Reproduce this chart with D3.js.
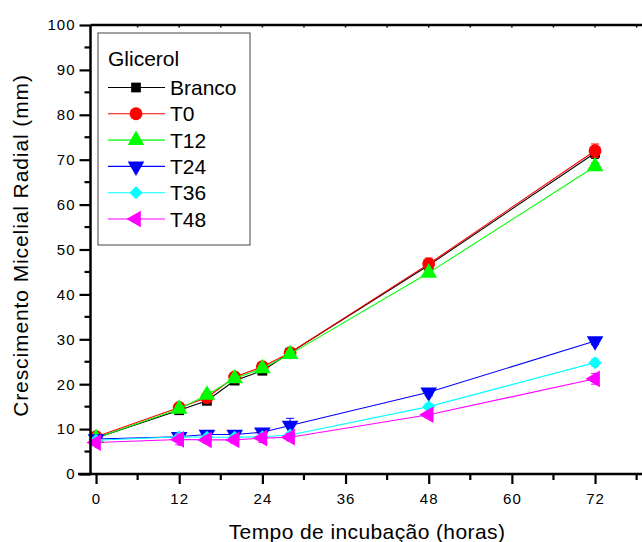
<!DOCTYPE html>
<html>
<head>
<meta charset="utf-8">
<script src="https://cdn.jsdelivr.net/npm/d3@7"></script>
<style>
  html, body { margin: 0; padding: 0; background: #fff; }
  svg { display: block; }
  text { font-family: Arial, "Liberation Sans", sans-serif; fill: #000; }
</style>
</head>
<body>
<script>
// Incubation times (hours)
const hours = [0, 12, 16, 20, 24, 28, 48, 72];

// Mean radial mycelial growth (mm) per treatment
const branco = [8.0, 14.2, 16.3, 20.8, 23.0, 27.0, 46.5, 71.5];
const t0     = [8.3, 14.8, 17.0, 21.6, 23.9, 27.0, 46.8, 72.0];
const t12    = [8.0, 14.5, 17.6, 21.3, 23.5, 26.7, 44.8, 68.5];
const t24    = [7.8, 8.3, 8.8, 8.8, 9.3, 10.8, 18.2, 29.6];
const t36    = [7.5, 8.3, 8.2, 8.2, 8.3, 8.7, 15.0, 24.8];
const t48    = [7.0, 7.7, 7.6, 7.6, 8.0, 8.2, 13.2, 21.2];

// Standard deviations
const brancoErr = [0.5, 0.8, 0.6, 0.8, 0.8, 0.7, 1.2, 1.2];
const t0Err     = [0.5, 0.8, 0.6, 0.8, 1.0, 0.7, 1.3, 1.5];
const t12Err    = [0.4, 0.7, 0.8, 0.6, 0.7, 0.6, 0.8, 0.8];
const t24Err    = [0.5, 0.5, 0.6, 0.5, 0.6, 1.6, 0.8, 0.8];
const t36Err    = [0.5, 0.6, 0.5, 0.6, 0.5, 0.6, 0.6, 0.8];
const t48Err    = [0.6, 1.2, 0.8, 0.8, 1.0, 0.8, 0.7, 1.2];

const seriesNames = ["Branco", "T0", "T12", "T24", "T36", "T48"];
const legendTitle = "Glicerol";
const xTicks = [0, 12, 24, 36, 48, 60, 72];
const yTicks = [0, 10, 20, 30, 40, 50, 60, 70, 80, 90, 100];
const xTitle = "Tempo de incubação (horas)";
const yTitle = "Crescimento Micelial Radial (mm)";

const series = [
  { name: seriesNames[0], values: branco, err: brancoErr, color: "#000000", shape: "square" },
  { name: seriesNames[1], values: t0,     err: t0Err,     color: "#ff0000", shape: "circle" },
  { name: seriesNames[2], values: t12,    err: t12Err,    color: "#00ff00", shape: "up" },
  { name: seriesNames[3], values: t24,    err: t24Err,    color: "#0000ff", shape: "down" },
  { name: seriesNames[4], values: t36,    err: t36Err,    color: "#00ffff", shape: "diamond" },
  { name: seriesNames[5], values: t48,    err: t48Err,    color: "#ff00ff", shape: "left" }
];

const W = 642, H = 542;
const plotLeft = 90.5, plotTop = 25, plotBottom = 474;

const x = d3.scaleLinear().domain([-0.8, 80]).range([plotLeft, plotLeft + 80.8 * (499 / 72)]);
const y = d3.scaleLinear().domain([0, 100]).range([plotBottom, plotTop]);

const svg = d3.select("body").append("svg").attr("width", W).attr("height", H);

// Marker path builder
function markerPath(shape) {
  const sym = d3.symbol();
  switch (shape) {
    case "square":  return { d: sym.type(d3.symbolSquare).size(95)(), rot: 0 };
    case "circle":  return { d: sym.type(d3.symbolCircle).size(130)(), rot: 0 };
    case "up":      return { d: sym.type(d3.symbolTriangle).size(120)(), rot: 0 };
    case "down":    return { d: sym.type(d3.symbolTriangle).size(120)(), rot: 180 };
    case "diamond": return { d: sym.type(d3.symbolSquare).size(85)(), rot: 45 };
    case "left":    return { d: sym.type(d3.symbolTriangle).size(120)(), rot: -90 };
  }
}

// Series: lines, error bars, markers
const plot = svg.append("g");
const line = d3.line().x((d, i) => x(hours[i])).y(d => y(d));

series.forEach(s => {
  const g = plot.append("g");
  g.append("path")
    .attr("d", line(s.values))
    .attr("fill", "none")
    .attr("stroke", s.color)
    .attr("stroke-width", 1.1);

  const eb = g.selectAll(".eb").data(s.values).enter().append("g");
  eb.append("line")
    .attr("x1", (d, i) => x(hours[i])).attr("x2", (d, i) => x(hours[i]))
    .attr("y1", (d, i) => y(d - s.err[i])).attr("y2", (d, i) => y(d + s.err[i]))
    .attr("stroke", s.color).attr("stroke-width", 1);
  [-1, 1].forEach(sg => {
    eb.append("line")
      .attr("x1", (d, i) => x(hours[i]) - 4).attr("x2", (d, i) => x(hours[i]) + 4)
      .attr("y1", (d, i) => y(d + sg * s.err[i])).attr("y2", (d, i) => y(d + sg * s.err[i]))
      .attr("stroke", s.color).attr("stroke-width", 1);
  });

  const m = markerPath(s.shape);
  g.selectAll(".mk").data(s.values).enter().append("path")
    .attr("d", m.d)
    .attr("transform", (d, i) => `translate(${x(hours[i])},${y(d)}) rotate(${m.rot})`)
    .attr("fill", s.color);
});

// Axes
const axisColor = "#000";
// x axis line (extends past the y axis)
svg.append("line").attr("x1", 78).attr("x2", W).attr("y1", plotBottom).attr("y2", plotBottom)
  .attr("stroke", axisColor).attr("stroke-width", 2.5);
// top frame
svg.append("line").attr("x1", plotLeft).attr("x2", W).attr("y1", plotTop).attr("y2", plotTop)
  .attr("stroke", axisColor).attr("stroke-width", 2.5);
// y axis line
svg.append("line").attr("x1", plotLeft).attr("x2", plotLeft).attr("y1", plotTop).attr("y2", plotBottom)
  .attr("stroke", axisColor).attr("stroke-width", 2.5);

const xAxis = d3.axisBottom(x).tickValues(xTicks).tickSize(10).tickPadding(9)
  .tickFormat(d3.format("d"));
const gx = svg.append("g").attr("transform", `translate(0,${plotBottom})`).call(xAxis);
gx.select(".domain").remove();
gx.selectAll(".tick line").attr("stroke-width", 2.2);
gx.selectAll(".tick text").style("font-size", "15px").style("letter-spacing", "1px")
  .attr("fill", "#000");

const xMinor = d3.range(6, 80, 12);
svg.append("g").selectAll("line").data(xMinor).enter().append("line")
  .attr("x1", d => x(d)).attr("x2", d => x(d))
  .attr("y1", plotBottom).attr("y2", plotBottom + 6)
  .attr("stroke", "#000").attr("stroke-width", 2.2);

// small ticks along the top frame
svg.append("g").selectAll("line").data(d3.range(6, 80, 6)).enter().append("line")
  .attr("x1", d => x(d)).attr("x2", d => x(d))
  .attr("y1", plotTop).attr("y2", plotTop + 2.5)
  .attr("stroke", "#000").attr("stroke-width", 1.5);

const yAxis = d3.axisLeft(y).tickValues(yTicks).tickSize(11).tickPadding(4)
  .tickFormat(d3.format("d"));
const gy = svg.append("g").attr("transform", `translate(${plotLeft},0)`).call(yAxis);
gy.select(".domain").remove();
gy.selectAll(".tick line").attr("stroke-width", 2.2);
gy.selectAll(".tick text").style("font-size", "15px").style("letter-spacing", "1px")
  .attr("fill", "#000");

const yMinor = d3.range(5, 100, 10);
svg.append("g").selectAll("line").data(yMinor).enter().append("line")
  .attr("x1", plotLeft - 6).attr("x2", plotLeft)
  .attr("y1", d => y(d)).attr("y2", d => y(d))
  .attr("stroke", "#000").attr("stroke-width", 2.2);

// Axis titles
svg.append("text")
  .attr("x", 367).attr("y", 539)
  .attr("text-anchor", "middle")
  .style("font-size", "21px").style("letter-spacing", "0.4px")
  .text(xTitle);

svg.append("text")
  .attr("transform", `translate(28,${(plotTop + plotBottom) / 2 - 4}) rotate(-90)`)
  .attr("text-anchor", "middle")
  .style("font-size", "21px").style("letter-spacing", "0.9px")
  .text(yTitle);

// Legend
const lg = svg.append("g");
lg.append("rect")
  .attr("x", 98).attr("y", 33).attr("width", 152).attr("height", 212)
  .attr("fill", "#fff").attr("stroke", "#444").attr("stroke-width", 1);
lg.append("text").attr("x", 108).attr("y", 66)
  .style("font-size", "21px").text(legendTitle);

series.forEach((s, i) => {
  const cy = 87.5 + i * 26.3;
  lg.append("line").attr("x1", 108).attr("x2", 165).attr("y1", cy).attr("y2", cy)
    .attr("stroke", s.color).attr("stroke-width", 1.1);
  const m = markerPath(s.shape);
  lg.append("path").attr("d", m.d)
    .attr("transform", `translate(136,${cy}) rotate(${m.rot})`)
    .attr("fill", s.color);
  lg.append("text").attr("x", 170).attr("y", cy + 7.5)
    .style("font-size", "21px").text(s.name);
});
</script>
</body>
</html>
